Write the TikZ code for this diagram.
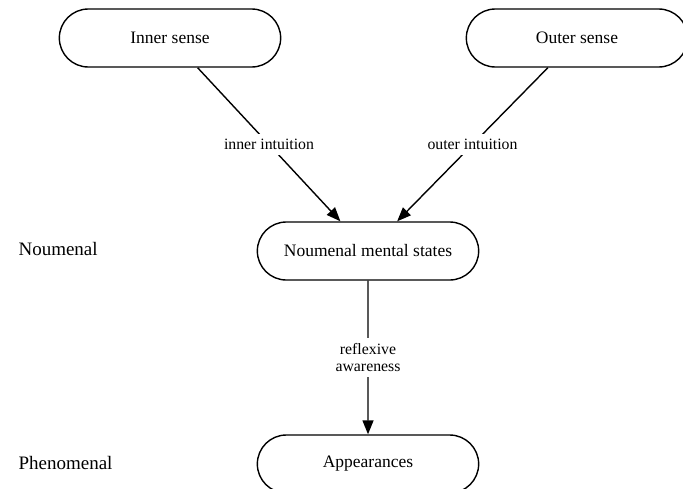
\documentclass[tikz,border=0pt]{standalone}
\usepackage{fontspec}
\setmainfont{Liberation Serif}
\usetikzlibrary{shapes.misc,arrows.meta}

\tikzset{
  state/.style={draw, rounded rectangle, line width=1.4pt,
    minimum width=228pt, minimum height=58pt,
    font=\fontsize{17.5}{21}\selectfont},
  realm/.style={anchor=west, font=\fontsize{19}{22}\selectfont},
  intuit/.style={-{Triangle[length=14pt,width=11pt]}, line width=1.4pt},
  edgelbl/.style={midway, fill=white, inner sep=5pt, align=center,
    font=\fontsize{15.8}{17}\selectfont}
}

\begin{document}
\begin{tikzpicture}[x=1pt,y=-1pt]
  \useasboundingbox (0,0) rectangle (683,488);
  \node[state] (inner) at (170,38) {Inner sense};
  \node[state] (outer) at (577,38) {Outer sense};
  \node[state] (noumenal) at (368,251) {Noumenal mental states};
  \node[state] (appear) at (368,464) {Appearances};
  \node[realm] (nlabel) at (15,249) {Noumenal};
  \node[realm] (plabel) at (15,463) {Phenomenal};
  % intuitions feed the noumenal states
  \draw[intuit] (inner) -- (noumenal) node[edgelbl] {inner intuition};
  \draw[intuit] (outer) -- (noumenal) node[edgelbl] {outer intuition};
  \draw[intuit] (noumenal) -- (appear) node[edgelbl] {reflexive\\awareness};
\end{tikzpicture}
\end{document}
